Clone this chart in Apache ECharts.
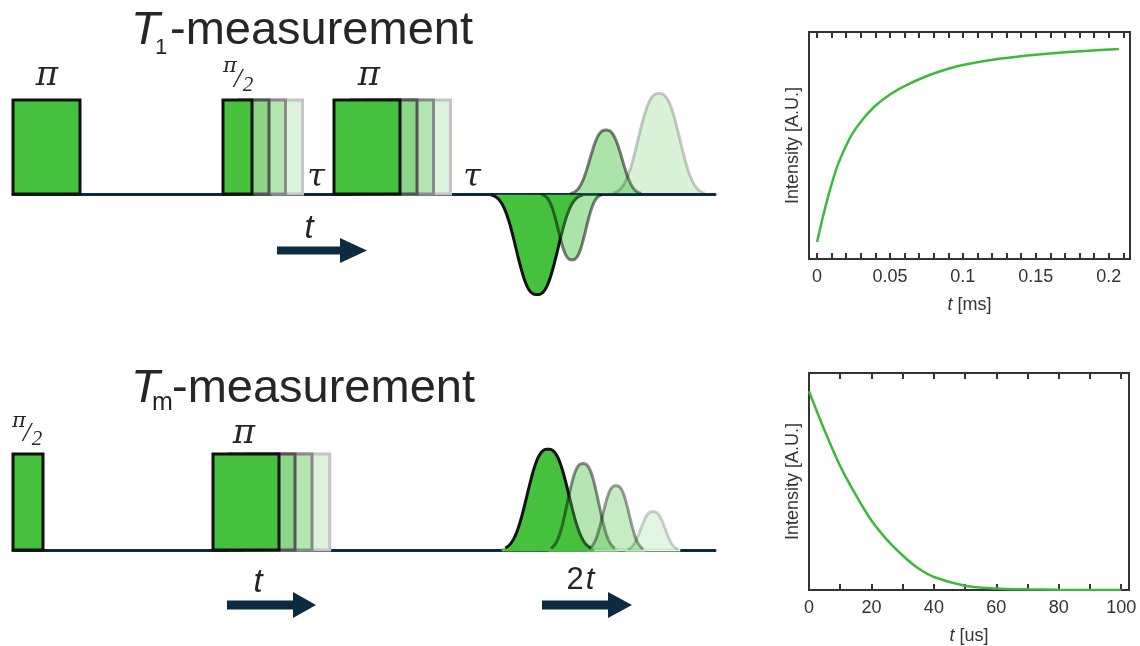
<!DOCTYPE html>
<html><head><meta charset="utf-8">
<script src="https://cdn.jsdelivr.net/npm/echarts@6/dist/echarts.min.js"></script>
<style>html,body{margin:0;padding:0;background:#fff}#c{width:1140px;height:646px}</style>
</head><body><div id="c"></div>
<script>
// ---------------- data ----------------
// T1 pulse sequence (time in arbitrary units, pulse height = 1)
const t1Pulses = [[13, 80], [223, 252], [334, 400]];
const t1GhostOf = [1, 2];                 // pulses that are stepped in time
const t1Shifts = [17, 33.5, 50.5];        // time steps of the stepped copies
const t1Echoes = [[537, -1.07, 22], [572, -0.70, 14.5], [606, 0.68, 17], [659, 1.07, 22]]; // [centre, amplitude, half-width]
// Tm pulse sequence
const tmPulses = [[13, 43], [213, 279]];
const tmGhostOf = [1];
const tmShifts = [16, 33, 50.7];
const tmEchoes = [[548, 1.05, 22], [583, 0.90, 16.5], [616, 0.67, 14], [653, 0.40, 13]];
// T1 recovery curve
const t1Time = [0, 0.002, 0.004, 0.0087, 0.014, 0.02, 0.025, 0.032, 0.04, 0.05, 0.06, 0.075, 0.09, 0.1, 0.125, 0.15, 0.175, 0.207];
const t1Intensity = [0.075, 0.13, 0.185, 0.30, 0.41, 0.50, 0.56, 0.62, 0.675, 0.725, 0.762, 0.805, 0.838, 0.855, 0.882, 0.9, 0.913, 0.925];
const t1TickLabels = [0, 0.05, 0.1, 0.15, 0.2];
const t1MinorTicks = [0, 0.01, 0.02, 0.03, 0.04, 0.05, 0.06, 0.07, 0.08, 0.09, 0.1, 0.11, 0.12, 0.13, 0.14, 0.15, 0.16, 0.17, 0.18, 0.19, 0.2, 0.21];
// Tm decay curve
const tmTime = [0, 5, 10, 15, 20, 25, 30, 35, 40, 50, 60, 70, 80, 100];
const tmIntensity = [0.916, 0.735, 0.571, 0.438, 0.32, 0.231, 0.159, 0.1, 0.06, 0.02, 0.007, 0.003, 0.001, 0];
const tmTickLabels = [0, 20, 40, 60, 80, 100];
const tmMinorTicks = [0, 10, 20, 30, 40, 50, 60, 70, 80, 90, 100];

// ---------------- styles ----------------
const NAVY = '#0c2b40';
const TXT = '#262626';
const pulseFill = ['#45c13e', '#8dd688', '#b5e5b1', '#dcf2da'];
const pulseStroke = ['#111111', '#555555', '#8a8a8a', '#c4c4c4'];
const t1EchoFill = ['#45c13e', 'rgba(69,193,62,0.45)', 'rgba(69,193,62,0.45)', 'rgba(69,193,62,0.2)'];
const t1EchoStroke = ['#111111', 'rgba(0,0,0,0.5)', 'rgba(0,0,0,0.5)', 'rgba(0,0,0,0.2)'];
const tmEchoFill = ['#45c13e', 'rgba(69,193,62,0.4)', 'rgba(69,193,62,0.3)', 'rgba(69,193,62,0.15)'];
const tmEchoStroke = ['#111111', 'rgba(0,0,0,0.45)', 'rgba(0,0,0,0.38)', 'rgba(0,0,0,0.18)'];
const tmEchoBase = ['#45c13e', '#a9e1a6', '#c0eabd', '#dff3dd'];

function pulseData(pulses, ghostOf, shifts) {
  const d = [];
  for (let k = shifts.length - 1; k >= 0; k--) {
    ghostOf.forEach(i => d.push([pulses[i][0] + shifts[k], pulses[i][1] + shifts[k], k + 1]));
  }
  pulses.forEach(p => d.push([p[0], p[1], 0]));
  return d;
}
function pulseRender(params, api) {
  const s = api.value(0), e = api.value(1), lvl = api.value(2);
  const a = api.coord([s, 1]), b = api.coord([e, 0]);
  return { type: 'rect', shape: { x: a[0], y: a[1], width: b[0] - a[0], height: b[1] - a[1] },
    style: { fill: pulseFill[lvl], stroke: pulseStroke[lvl], lineWidth: 3 } };
}
// echo envelope: flat-topped bell, half maximum at +/- half-width
function echoRender(fills, strokes, bases, strokeSpan) {
  return function (params, api) {
    const c = api.value(0), amp = api.value(1), h = api.value(2), i = params.dataIndex;
    const ext = 2.1 * h, poly = [], line = [];
    for (let x = c - ext; x <= c + ext + 0.01; x += 0.5) {
      const v = amp * Math.exp(-Math.LN2 * Math.pow(Math.abs(x - c) / h, 2.6));
      const p = api.coord([x, v]);
      poly.push(p);
      if (Math.abs(x - c) <= strokeSpan * h) line.push(p);
    }
    const children = [];
    if (bases) {
      const p0 = api.coord([c - ext, 0]), p1 = api.coord([c + ext, 0]);
      children.push({ type: 'line', z2: 10 - i, shape: { x1: p0[0], y1: p0[1], x2: p1[0], y2: p1[1] }, style: { stroke: bases[i], lineWidth: 3 } });
    }
    children.push({ type: 'polygon', z2: 20 + i, shape: { points: poly }, style: { fill: fills[i], stroke: null } });
    children.push({ type: 'polyline', z2: 20 + i, shape: { points: line }, style: { fill: null, stroke: strokes[i], lineWidth: 3 } });
    return { type: 'group', children };
  };
}
function arrow(x0, xh, xt, y, sh, hh) {
  return { type: 'polygon', shape: { points: [[x0, y - sh], [xh, y - sh], [xh, y - hh], [xt, y], [xh, y + hh], [xh, y + sh], [x0, y + sh]] },
    style: { fill: NAVY } };
}
function txt(text, x, y, font, align) {
  return { type: 'text', x, y, style: { text, font, fill: TXT, align: align || 'center', verticalAlign: 'middle' } };
}

const sans = '"Liberation Sans", Arial, sans-serif';
const serifPi = '"DejaVu Serif", serif';
const tSerif = '"Liberation Serif", serif';

const diagX = (min, max) => ({ type: 'value', min, max, axisLine: { show: true, onZero: true, lineStyle: { color: NAVY, width: 3 } },
  axisTick: { show: false }, axisLabel: { show: false }, splitLine: { show: false } });
const hidY = (min, max, gi) => ({ type: 'value', gridIndex: gi, min, max, show: false });

function chartX(gi, min, max, labels, ticks, name, top) {
  return {
    type: 'value', gridIndex: gi, min, max, position: top ? 'top' : 'bottom',
    axisLine: { show: false },
    axisTick: { show: true, inside: true, length: 6, customValues: ticks, lineStyle: { color: '#333', width: 2 } },
    axisLabel: top ? { show: false } : { show: true, customValues: labels, color: '#333', fontSize: 18, fontFamily: sans, margin: 9 },
    splitLine: { show: false },
    name: top ? '' : name, nameLocation: 'middle', nameGap: 37,
    nameTextStyle: { color: '#333', fontSize: 18, fontFamily: sans, rich: { i: { fontStyle: 'italic', fontSize: 18, fontFamily: sans, color: '#333' } } }
  };
}
function chartY(gi) {
  return { type: 'value', gridIndex: gi, min: 0, max: 1, axisLine: { show: false }, axisTick: { show: false }, axisLabel: { show: false },
    splitLine: { show: false }, name: 'Intensity [A.U.]', nameLocation: 'middle', nameGap: 7,
    nameTextStyle: { color: '#333', fontSize: 18, fontFamily: sans } };
}

const option = {
  backgroundColor: '#ffffff',
  animation: false,
  grid: [
    { left: 13, top: 53, width: 702, height: 282 },
    { left: 13, top: 434.8, width: 702, height: 192 },
    { left: 809, top: 32, width: 321, height: 227, show: true, borderColor: '#333', borderWidth: 2, backgroundColor: 'transparent' },
    { left: 809, top: 373, width: 320, height: 226, show: true, borderColor: '#333', borderWidth: 2, backgroundColor: 'transparent' }
  ],
  xAxis: [
    Object.assign(diagX(13, 715), { gridIndex: 0 }),
    Object.assign(diagX(13, 715), { gridIndex: 1 }),
    chartX(2, -0.0055, 0.2146, t1TickLabels, t1MinorTicks, '{i|t} [ms]', false),
    chartX(2, -0.0055, 0.2146, t1TickLabels, t1MinorTicks, '', true),
    chartX(3, 0, 102.5, tmTickLabels, tmMinorTicks, '{i|t} [us]', false),
    chartX(3, 0, 102.5, tmTickLabels, tmMinorTicks, '', true)
  ],
  yAxis: [hidY(-1.5, 1.5, 0), hidY(-0.8, 1.2, 1), chartY(2), chartY(3)],
  series: [
    { type: 'custom', xAxisIndex: 0, yAxisIndex: 0, renderItem: pulseRender, data: pulseData(t1Pulses, t1GhostOf, t1Shifts), encode: { x: [0, 1] }, z: 3 },
    { type: 'custom', xAxisIndex: 0, yAxisIndex: 0, renderItem: echoRender(t1EchoFill, t1EchoStroke, null, 3), data: t1Echoes, encode: { x: 0, y: 1 }, z: 3 },
    { type: 'custom', xAxisIndex: 1, yAxisIndex: 1, renderItem: pulseRender, data: pulseData(tmPulses, tmGhostOf, tmShifts), encode: { x: [0, 1] }, z: 3 },
    { type: 'custom', xAxisIndex: 1, yAxisIndex: 1, renderItem: echoRender(tmEchoFill, tmEchoStroke, tmEchoBase, 1.95), data: tmEchoes, encode: { x: 0, y: 1 }, z: 3 },
    { type: 'line', xAxisIndex: 2, yAxisIndex: 2, data: t1Time.map((t, i) => [t, t1Intensity[i]]), smooth: 0.35,
      showSymbol: false, lineStyle: { color: '#3dba3a', width: 2.5 }, z: 4 },
    { type: 'line', xAxisIndex: 4, yAxisIndex: 3, data: tmTime.map((t, i) => [t, tmIntensity[i]]), smooth: 0.35,
      showSymbol: false, lineStyle: { color: '#3dba3a', width: 2.5 }, z: 4 }
  ],
  graphic: [
    // titles
    txt('T', 131, 31, 'italic 47px ' + sans, 'left'),
    txt('1', 155, 48, '22px ' + sans, 'left'),
    txt('-measurement', 170, 31, '47px ' + sans, 'left'),
    txt('T', 131, 389, 'italic 47px ' + sans, 'left'),
    txt('m', 152, 403, '25px ' + sans, 'left'),
    txt('-measurement', 172, 389, '47px ' + sans, 'left'),
    // pulse labels
    txt('π', 47, 76, 'italic 34px ' + serifPi),
    txt('π', 369, 76, 'italic 34px ' + serifPi),
    txt('π', 244, 434, 'italic 34px ' + serifPi),
    txt('π', 230, 67, 'italic 21px ' + serifPi),
    txt('/', 238, 80, 'italic 28px ' + tSerif),
    txt('2', 248, 85, 'italic 21px ' + tSerif),
    txt('π', 19, 422, 'italic 21px ' + serifPi),
    txt('/', 27, 434, 'italic 28px ' + tSerif),
    txt('2', 37, 439, 'italic 21px ' + tSerif),
    txt('τ', 316, 178, 'italic 32px ' + serifPi),
    txt('τ', 472, 178, 'italic 32px ' + serifPi),
    // time arrows
    arrow(277, 340, 367, 250.5, 4, 12.5),
    txt('t', 309, 229, 'italic 33px ' + sans),
    arrow(227, 293, 316, 605, 4.5, 13),
    txt('t', 258, 583, 'italic 33px ' + sans),
    arrow(542, 608, 632, 605, 4.5, 13),
    txt('2', 575, 580, '31px ' + sans),
    txt('t', 590, 580, 'italic 31px ' + sans)
  ]
};
const chart = echarts.init(document.getElementById('c'));
chart.setOption(option);
</script></body></html>
